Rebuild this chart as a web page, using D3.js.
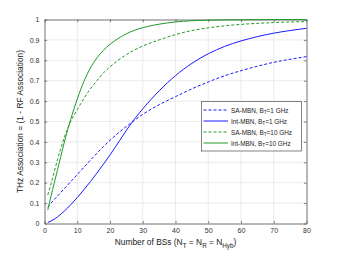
<!DOCTYPE html>
<html>
<head>
<meta charset="utf-8">
<script src="https://cdn.jsdelivr.net/npm/d3@7"></script>
<style>
  body { margin: 0; background: #fff; }
  svg { display: block; font-family: "Liberation Sans", Arial, Helvetica, sans-serif; }
</style>
</head>
<body>
<div id="chart"></div>
<script>
// values
var xTicks = [0, 10, 20, 30, 40, 50, 60, 70, 80];
var yTicks = [0, 0.1, 0.2, 0.3, 0.4, 0.5, 0.6, 0.7, 0.8, 0.9, 1];

var saX1 = [1, 2, 4, 6, 8, 10, 12, 14, 16, 18, 20, 23, 26, 30, 35, 40, 45, 50, 55, 60, 65, 70, 75, 80];
var sa1GHz = [0.08, 0.1, 0.135, 0.17, 0.205, 0.24, 0.275, 0.31, 0.344, 0.377, 0.408, 0.45, 0.488, 0.535, 0.582, 0.622, 0.66, 0.694, 0.724, 0.749, 0.771, 0.79, 0.805, 0.818];

var intX1 = [1, 2, 4, 6, 8, 10, 12, 14, 16, 18, 20, 23, 26, 30, 35, 40, 45, 50, 55, 60, 65, 70, 75, 80];
var int1GHz = [0.005, 0.012, 0.033, 0.06, 0.092, 0.127, 0.165, 0.205, 0.247, 0.291, 0.336, 0.408, 0.48, 0.562, 0.65, 0.725, 0.785, 0.832, 0.868, 0.895, 0.916, 0.933, 0.946, 0.957];

var saX10 = [1, 2, 3, 4, 5, 6, 8, 10, 12, 14, 16, 18, 20, 25, 30, 35, 40, 45, 50, 55, 60, 70, 80];
var sa10GHz = [0.14, 0.195, 0.255, 0.315, 0.37, 0.42, 0.5, 0.558, 0.612, 0.66, 0.7, 0.738, 0.768, 0.828, 0.87, 0.9, 0.926, 0.946, 0.959, 0.969, 0.976, 0.985, 0.99];

var intX10 = [1, 2, 3, 4, 5, 6, 8, 10, 12, 14, 16, 18, 20, 25, 30, 35, 40, 45, 50, 60, 70, 80];
var int10GHz = [0.066, 0.135, 0.2, 0.265, 0.33, 0.395, 0.51, 0.61, 0.695, 0.762, 0.812, 0.849, 0.878, 0.93, 0.96, 0.977, 0.988, 0.994, 0.997, 0.999, 1, 1];

var seriesNames = ["SA-MBN, B|T|=1 GHz", "Int-MBN, B|T|=1 GHz", "SA-MBN, B|T|=10 GHz", "Int-MBN, B|T|=10 GHz"];
var seriesColors = ["#1a1aff", "#1a1aff", "#22992a", "#22992a"];
var seriesDash = ["3,2", null, "3,2", null];

(function () {
    var W = 339, H = 254;
    var mL = 44.5, mR = 306.5, mT = 19.5, mB = 223.5;

    var svg = d3.select("#chart").append("svg").attr("width", W).attr("height", H);

    var x = d3.scaleLinear().domain([0, 80]).range([mL, mR]);
    var y = d3.scaleLinear().domain([0, 1]).range([mB, mT]);

    //grid
    svg.append("g").selectAll("line").data(xTicks.slice(1, -1)).enter().append("line")
        .attr("x1", d => x(d)).attr("x2", d => x(d))
        .attr("y1", mT).attr("y2", mB)
        .attr("stroke", "#e6e6e6").attr("stroke-width", 0.8);
    svg.append("g").selectAll("line").data(yTicks.slice(1, -1)).enter().append("line")
        .attr("x1", mL).attr("x2", mR)
        .attr("y1", d => y(d)).attr("y2", d => y(d))
        .attr("stroke", "#e6e6e6").attr("stroke-width", 0.8);

    //axes, ticks inward on all four sides
    var axisColor = "#4d4d4d";
    var tk = 2.6;
    svg.append("g").attr("transform", "translate(0," + mB + ")")
        .call(d3.axisBottom(x).tickValues(xTicks).tickSizeInner(-tk).tickSizeOuter(0).tickPadding(5));
    svg.append("g").attr("transform", "translate(0," + mT + ")")
        .call(d3.axisTop(x).tickValues(xTicks).tickSizeInner(-tk).tickSizeOuter(0).tickFormat(""));
    svg.append("g").attr("transform", "translate(" + mL + ",0)")
        .call(d3.axisLeft(y).tickValues(yTicks).tickSizeInner(-tk).tickSizeOuter(0).tickPadding(5).tickFormat(d3.format("~g")));
    svg.append("g").attr("transform", "translate(" + mR + ",0)")
        .call(d3.axisRight(y).tickValues(yTicks).tickSizeInner(-tk).tickSizeOuter(0).tickFormat(""));

    svg.selectAll(".domain").attr("stroke", axisColor).attr("stroke-width", 0.8);
    svg.selectAll(".tick line").attr("stroke", axisColor).attr("stroke-width", 0.7);
    svg.selectAll(".tick text").attr("fill", "#333").style("font-size", "7px").style("font-family", "'Liberation Sans', Arial, sans-serif");

    //curves
    var line = d3.line().x(d => x(d[0])).y(d => y(d[1])).curve(d3.curveMonotoneX);
    var allSeries = [
        d3.zip(saX1, sa1GHz),
        d3.zip(intX1, int1GHz),
        d3.zip(saX10, sa10GHz),
        d3.zip(intX10, int10GHz)
    ];
    allSeries.forEach(function (pts, i) {
        var p = svg.append("path")
            .attr("d", line(pts))
            .style("fill", "none")
            .style("stroke", seriesColors[i])
            .style("stroke-width", 1);
        if (seriesDash[i]) p.style("stroke-dasharray", seriesDash[i]);
    });

    //subscript helper: "a|sub|b"
    function subText(sel, str, fs) {
        var parts = str.split("|");
        parts.forEach(function (p, k) {
            var t = sel.append("tspan").text(p);
            if (k % 2 == 1) {
                t.attr("dy", fs * 0.3).style("font-size", (fs * 0.75) + "px");
            } else if (k > 0) {
                t.attr("dy", -fs * 0.3);
            }
        });
    }

    //legend
    var lg = svg.append("g");
    lg.append("rect")
        .attr("x", 201.5).attr("y", 101.5).attr("width", 100).attr("height", 49.5)
        .attr("fill", "#fff").attr("stroke", "#4d4d4d").attr("stroke-width", 0.7);
    seriesNames.forEach(function (name, i) {
        var yy = 110 + i * 11;
        var seg = lg.append("path")
            .attr("d", "M203.5," + yy + "H228")
            .style("fill", "none")
            .style("stroke", seriesColors[i])
            .style("stroke-width", 1);
        if (seriesDash[i]) seg.style("stroke-dasharray", seriesDash[i]);
        var t = lg.append("text").attr("x", 231).attr("y", yy + 2.5)
            .style("font-size", "6.4px").attr("fill", "#222");
        subText(t, name, 6.4);
    });

    //axis labels
    var xl = svg.append("text")
        .attr("x", (mL + mR) / 2).attr("y", 245)
        .attr("text-anchor", "middle").style("font-size", "8.4px").attr("fill", "#222");
    subText(xl, "Number of BSs (N|T| = N|R| = N|Hyb|)", 8.4);

    svg.append("text")
        .attr("transform", "translate(23," + ((mT + mB) / 2) + ") rotate(-90)")
        .attr("text-anchor", "middle").style("font-size", "8.4px").attr("fill", "#222")
        .text("THz Association = (1 - RF Association)");
})();
</script>
</body>
</html>
